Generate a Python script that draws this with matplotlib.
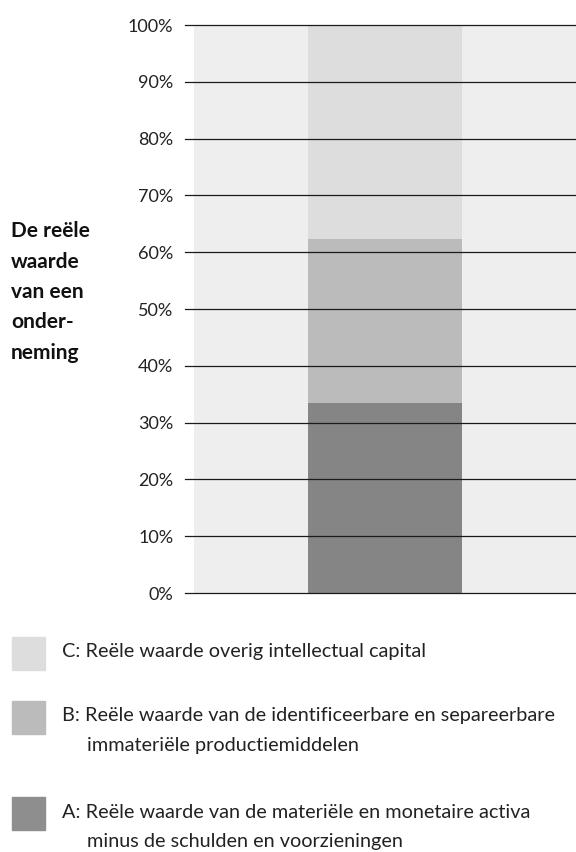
import matplotlib
matplotlib.use("Agg")
import matplotlib.pyplot as plt
from matplotlib.patches import Rectangle

plt.rcParams['font.family'] = ['Lato', 'DejaVu Sans']

# data (percentage of the total value)
segmenten = ['A', 'B', 'C']
waarden = [33.5, 28.8, 37.7]
kleuren = ['#858585', '#bbbbbb', '#dddddd']
legenda_kleuren = ['#8e8e8e', '#bbbbbb', '#dddddd']
legenda_regel1 = [
    'A: Reële waarde van de materiële en monetaire activa',
    'B: Reële waarde van de identificeerbare en separeerbare',
    'C: Reële waarde overig intellectual capital',
]
legenda_regel2 = [
    'minus de schulden en voorzieningen',
    'immateriële productiemiddelen',
    '',
]
yticks = list(range(0, 101, 10))
ylabel_regels = ['De reële', 'waarde', 'van een', 'onder-', 'neming']

W, H = 576, 852
fig = plt.figure(figsize=(W / 100, H / 100), dpi=100)

# axes: background from x=194 to 576, y 25 (100%) to 593 (0%)
ax = fig.add_axes([194 / W, 1 - 593 / H, (576 - 194) / W, (593 - 25) / H])
ax.set_facecolor('#eeeeee')
ax.set_xlim(-0.5, 0.5)
ax.set_ylim(0, 100)

onder = 0
for w, k in zip(waarden, kleuren):
    ax.bar(0, w, bottom=onder, width=0.403, color=k, zorder=1)
    onder += w

for t in yticks:
    ax.axhline(t, xmin=-0.024, xmax=1, color='#1a1a1a', lw=0.9, clip_on=False, zorder=3)

ax.set_yticks(yticks)
ax.set_yticklabels([f'{t}%' for t in yticks], fontsize=13, color='#222222')
ax.tick_params(axis='y', length=0, pad=15)
ax.set_xticks([])
for s in ax.spines.values():
    s.set_visible(False)

# y label
for i, regel in enumerate(ylabel_regels):
    fig.text(11 / W, 1 - (237 + i * 30.5) / H, regel, fontsize=15, fontweight='bold',
             va='baseline', ha='left', color='#111111')

# legend (C top, then B, then A)
leg_y = {'C': 652, 'B': 716, 'A': 812}
for seg, k, r1, r2 in zip(segmenten, legenda_kleuren, legenda_regel1, legenda_regel2):
    yc = leg_y[seg]
    fig.patches.append(Rectangle((12 / W, 1 - (yc + 18) / H), 33 / W, 33 / H,
                                 transform=fig.transFigure, color=k))
    fig.text(62 / W, 1 - yc / H, r1, fontsize=14.3, va='center', ha='left', color='#222222')
    if r2:
        fig.text(87 / W, 1 - (yc + 30) / H, r2, fontsize=14.3, va='center', ha='left',
                 color='#222222')

fig.savefig('out.png', dpi=100)
